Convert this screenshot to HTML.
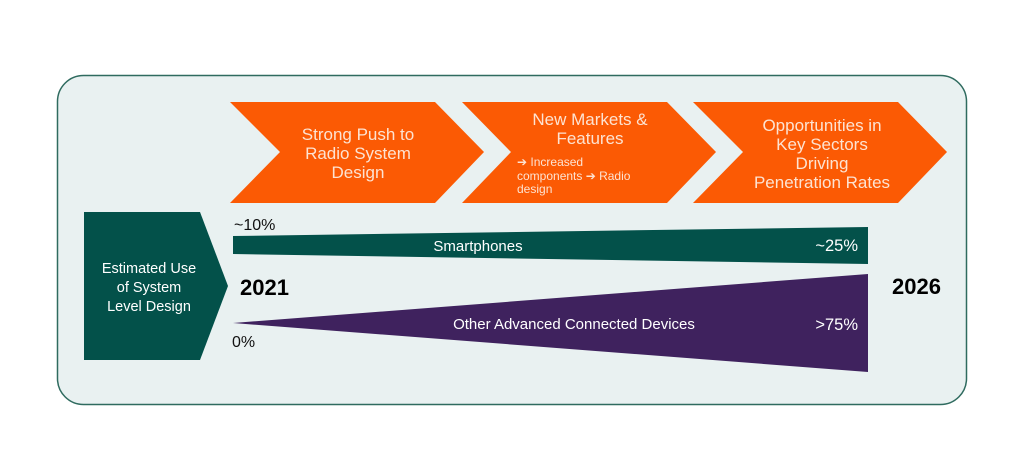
<!DOCTYPE html>
<html><head><meta charset="utf-8"><style>
html,body{margin:0;padding:0;background:#fff;}
svg{display:block;}
text{font-family:"Liberation Sans",Arial,sans-serif;}
</style></head><body>
<svg width="1024" height="473" viewBox="0 0 1024 473" xmlns="http://www.w3.org/2000/svg">
<rect x="57.5" y="75.5" width="909" height="329" rx="26" fill="#e9f1f1" stroke="#2f6b5f" stroke-width="1.5"/>
<polygon points="230,102 435,102 484,152 435,203 230,203 280,152" fill="#fb5a04"/>
<polygon points="462,102 667,102 716,152 667,203 462,203 511,152" fill="#fb5a04"/>
<polygon points="693,102 898,102 947,152 898,203 693,203 743,152" fill="#fb5a04"/>
<g fill="#fde3d2" font-size="17" text-anchor="middle">
<text x="358" y="140">Strong Push to</text>
<text x="358" y="159">Radio System</text>
<text x="358" y="178">Design</text>
<text x="590" y="125">New Markets &amp;</text>
<text x="590" y="144">Features</text>
<text x="822" y="131">Opportunities in</text>
<text x="822" y="150">Key Sectors</text>
<text x="822" y="169">Driving</text>
<text x="822" y="188">Penetration Rates</text>
</g>
<g fill="#fde3d2" font-size="12">
<text x="517" y="166">➔ Increased</text>
<text x="517" y="180">components ➔ Radio</text>
<text x="517" y="193">design</text>
</g>
<polygon points="84,212 200,212 228,286 200,360 84,360" fill="#03514a"/>
<g fill="#ffffff" font-size="14.5" text-anchor="middle">
<text x="149" y="273">Estimated Use</text>
<text x="149" y="292">of System</text>
<text x="149" y="311">Level Design</text>
</g>
<polygon points="233,236 868,227 868,264 233,254" fill="#03514a"/>
<polygon points="233,323 868,274 868,372" fill="#3f225e"/>
<g font-size="15" fill="#ffffff">
<text x="478" y="251" text-anchor="middle">Smartphones</text>
<text x="574" y="329" text-anchor="middle">Other Advanced Connected Devices</text>
</g>
<g font-size="16.5" fill="#ffffff">
<text x="858" y="251" text-anchor="end">~25%</text>
<text x="858" y="330" text-anchor="end">&gt;75%</text>
</g>
<g font-size="16" fill="#111">
<text x="234" y="230">~10%</text>
<text x="232" y="347">0%</text>
</g>
<g font-size="22" font-weight="bold" fill="#000">
<text x="240" y="295">2021</text>
<text x="892" y="294">2026</text>
</g>
</svg>
</body></html>
